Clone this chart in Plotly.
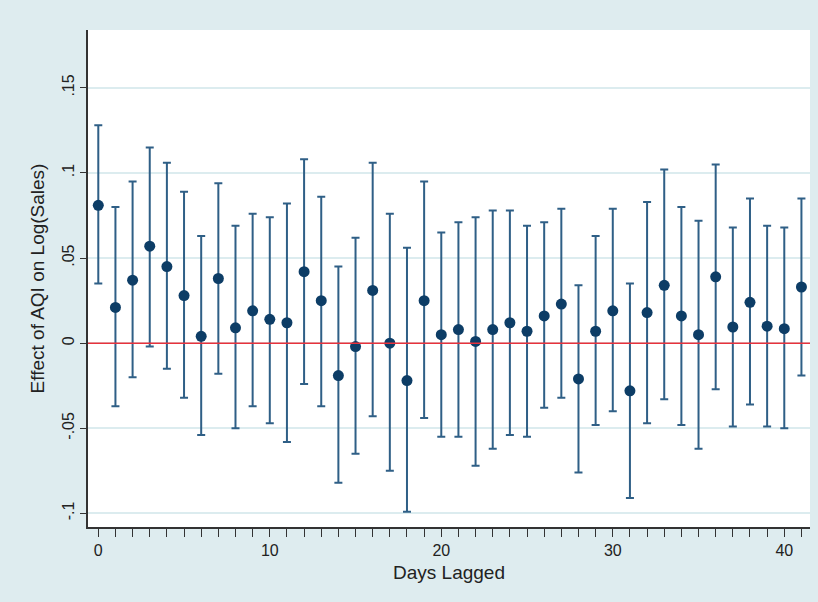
import plotly.graph_objects as go

lags = list(range(42))
effect = [0.081, 0.021, 0.037, 0.057, 0.045, 0.028, 0.004, 0.038, 0.009, 0.019,
          0.014, 0.012, 0.042, 0.025, -0.019, -0.002, 0.031, 0.000, -0.022, 0.025,
          0.005, 0.008, 0.001, 0.008, 0.012, 0.007, 0.016, 0.023, -0.021, 0.007,
          0.019, -0.028, 0.018, 0.034, 0.016, 0.005, 0.039, 0.0095, 0.024, 0.010,
          0.0085, 0.033]
ci_hi = [0.128, 0.080, 0.095, 0.115, 0.106, 0.089, 0.063, 0.094, 0.069, 0.076,
         0.074, 0.082, 0.108, 0.086, 0.045, 0.062, 0.106, 0.076, 0.056, 0.095,
         0.065, 0.071, 0.074, 0.078, 0.078, 0.069, 0.071, 0.079, 0.034, 0.063,
         0.079, 0.035, 0.083, 0.102, 0.080, 0.072, 0.105, 0.068, 0.085, 0.069,
         0.068, 0.085]
ci_lo = [0.035, -0.037, -0.020, -0.002, -0.015, -0.032, -0.054, -0.018, -0.050, -0.037,
         -0.047, -0.058, -0.024, -0.037, -0.082, -0.065, -0.043, -0.075, -0.099, -0.044,
         -0.055, -0.055, -0.072, -0.062, -0.054, -0.055, -0.038, -0.032, -0.076, -0.048,
         -0.040, -0.091, -0.047, -0.033, -0.048, -0.062, -0.027, -0.049, -0.036, -0.049,
         -0.050, -0.019]

y_ticks = [-0.1, -0.05, 0, 0.05, 0.1, 0.15]
y_labels = ["-.1", "-.05", "0", ".05", ".1", ".15"]

fig = go.Figure()
fig.add_trace(go.Scatter(
    x=lags, y=effect, mode="markers",
    marker=dict(color="#0d3d66", size=11),
    error_y=dict(type="data", symmetric=False,
                 array=[h - e for h, e in zip(ci_hi, effect)],
                 arrayminus=[e - l for e, l in zip(effect, ci_lo)],
                 color="#2f5f86", thickness=2, width=4),
    showlegend=False,
))
# zero reference line
fig.add_hline(y=0, line=dict(color="#e8323c", width=1.5))

fig.update_layout(
    width=818, height=602,
    margin=dict(l=88, r=8, t=30, b=75),
    paper_bgcolor="#deecef", plot_bgcolor="white",
    font=dict(family="Liberation Sans, Arial", size=16, color="#222"),
)
fig.update_xaxes(
    range=[-0.6, 41.5], tickvals=[0, 10, 20, 30, 40],
    showgrid=False, zeroline=False,
    showline=True, linecolor="#333", linewidth=1.5,
    ticks="outside", ticklen=8, tickcolor="#333",
    minor=dict(dtick=1, ticks="outside", ticklen=8, tickcolor="#333"),
    title=dict(text="Days Lagged", standoff=8),
)
fig.update_yaxes(
    range=[-0.108, 0.184], tickvals=y_ticks, ticktext=y_labels, tickangle=-90,
    gridcolor="#dcecef", gridwidth=1.5, zeroline=False,
    showline=True, linecolor="#333", linewidth=1.5,
    ticks="outside", ticklen=6, tickcolor="#333",
    title=dict(text="Effect of AQI on Log(Sales)", standoff=10),
)
fig.write_html("out.html", config={"displayModeBar": False},
               post_script="document.body.style.margin='0';document.body.style.overflow='hidden';")
